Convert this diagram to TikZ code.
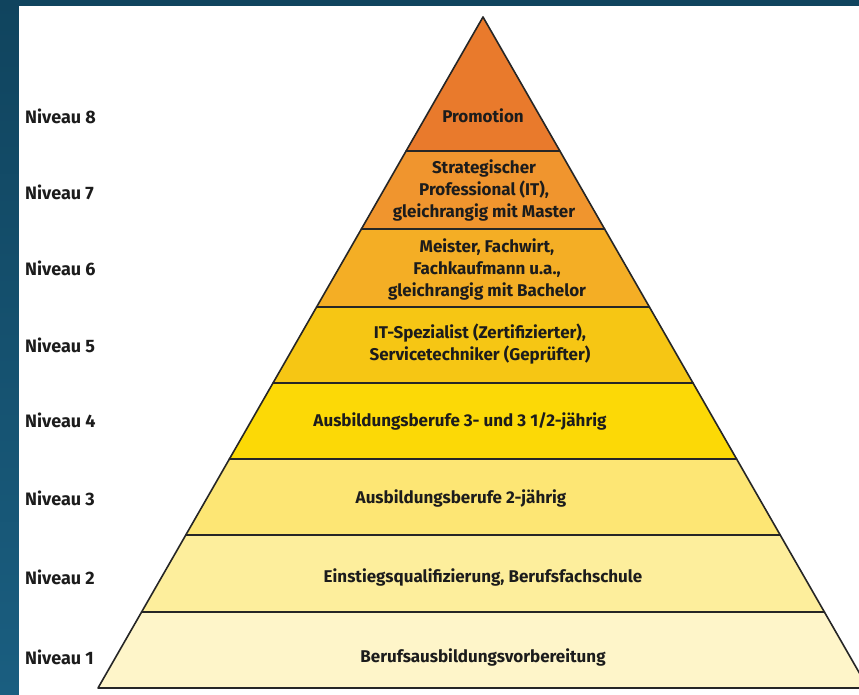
\documentclass[tikz,border=0pt]{standalone}
\usepackage{fontspec}
\setmainfont{Fira Sans}

\definecolor{frameblue}{HTML}{10445E}
\definecolor{framelow}{HTML}{1A5E80}
\definecolor{lvleight}{HTML}{E97A2C}
\definecolor{lvlseven}{HTML}{F0952E}
\definecolor{lvlsix}{HTML}{F4AE25}
\definecolor{lvlfive}{HTML}{F6C614}
\definecolor{lvlfour}{HTML}{FCD906}
\definecolor{lvlthree}{HTML}{FDE674}
\definecolor{lvltwo}{HTML}{FDEE9C}
\definecolor{lvlone}{HTML}{FEF5C9}
\definecolor{edgegray}{HTML}{262626}
\definecolor{textdark}{HTML}{1C1C1C}

\begin{document}
\begin{tikzpicture}[
    x=1pt,
    y=-1pt,
    line cap=round,
    line join=round,
    layer/.style={
        draw=edgegray,
        line width=1.6pt
    },
    stufe/.style={
        text=textdark,
        align=center,
        font=\bfseries\fontsize{17}{22}\selectfont
    },
    niveau/.style={
        anchor=west,
        text=textdark,
        inner sep=0pt,
        font=\bfseries\fontsize{18}{20}\selectfont
    }
]

% =================================================
% Rahmen und Hintergrund
% =================================================

\useasboundingbox (0,0) rectangle (859,695);
\clip (0,0) rectangle (859,695);

\shade[top color=frameblue, bottom color=framelow]
    (0,0) rectangle (19,695);
\fill[frameblue] (0,0) rectangle (859,6);
\fill[white] (19,6) rectangle (859,695);

% =================================================
% Eckpunkte der Pyramide
% =================================================

% Spitze
\coordinate (A) at (483,17);

% Linke Kante
\coordinate (L8) at (406.1,151);
\coordinate (L7) at (361.4,229);
\coordinate (L6) at (316.6,307);
\coordinate (L5) at (273.0,383);
\coordinate (L4) at (229.4,459);
\coordinate (L3) at (185.8,535);
\coordinate (L2) at (141.6,612);
\coordinate (L1) at (98.0,688);

% Rechte Kante
\coordinate (R8) at (559.9,151);
\coordinate (R7) at (604.6,229);
\coordinate (R6) at (649.4,307);
\coordinate (R5) at (693.0,383);
\coordinate (R4) at (736.6,459);
\coordinate (R3) at (780.2,535);
\coordinate (R2) at (824.4,612);
\coordinate (R1) at (868.0,688);

% =================================================
% Stufen der Pyramide
% =================================================

\filldraw[layer, fill=lvlone]   (L2)--(R2)--(R1)--(L1)--cycle;
\filldraw[layer, fill=lvltwo]   (L3)--(R3)--(R2)--(L2)--cycle;
\filldraw[layer, fill=lvlthree] (L4)--(R4)--(R3)--(L3)--cycle;
\filldraw[layer, fill=lvlfour]  (L5)--(R5)--(R4)--(L4)--cycle;
\filldraw[layer, fill=lvlfive]  (L6)--(R6)--(R5)--(L5)--cycle;
\filldraw[layer, fill=lvlsix]   (L7)--(R7)--(R6)--(L6)--cycle;
\filldraw[layer, fill=lvlseven] (L8)--(R8)--(R7)--(L7)--cycle;
\filldraw[layer, fill=lvleight] (A)--(R8)--(L8)--cycle;

% =================================================
% Beschriftung der Stufen
% =================================================

\node[stufe] (T8) at (483,116) {Promotion};
\node[stufe] (T7) at (484,190)
    {Strategischer\\Professional (IT),\\gleichrangig mit Master};
\node[stufe] (T6) at (487,269)
    {Meister, Fachwirt,\\Fachkaufmann u.a.,\\gleichrangig mit Bachelor};
\node[stufe] (T5) at (480,344)
    {IT-Spezialist (Zertifizierter),\\Servicetechniker (Geprüfter)};
\node[stufe] (T4) at (460,421) {Ausbildungsberufe 3- und 3 1/2-jährig};
\node[stufe] (T3) at (461,498) {Ausbildungsberufe 2-jährig};
\node[stufe] (T2) at (483,577) {Einstiegsqualifizierung, Berufsfachschule};
\node[stufe] (T1) at (483,657) {Berufsausbildungsvorbereitung};

% =================================================
% Niveaus links
% =================================================

\node[niveau] (N8) at (25,116) {Niveau 8};
\node[niveau] (N7) at (25,192) {Niveau 7};
\node[niveau] (N6) at (25,268) {Niveau 6};
\node[niveau] (N5) at (25,345) {Niveau 5};
\node[niveau] (N4) at (25,420) {Niveau 4};
\node[niveau] (N3) at (25,498) {Niveau 3};
\node[niveau] (N2) at (25,577) {Niveau 2};
\node[niveau] (N1) at (25,657) {Niveau 1};

\end{tikzpicture}
\end{document}
